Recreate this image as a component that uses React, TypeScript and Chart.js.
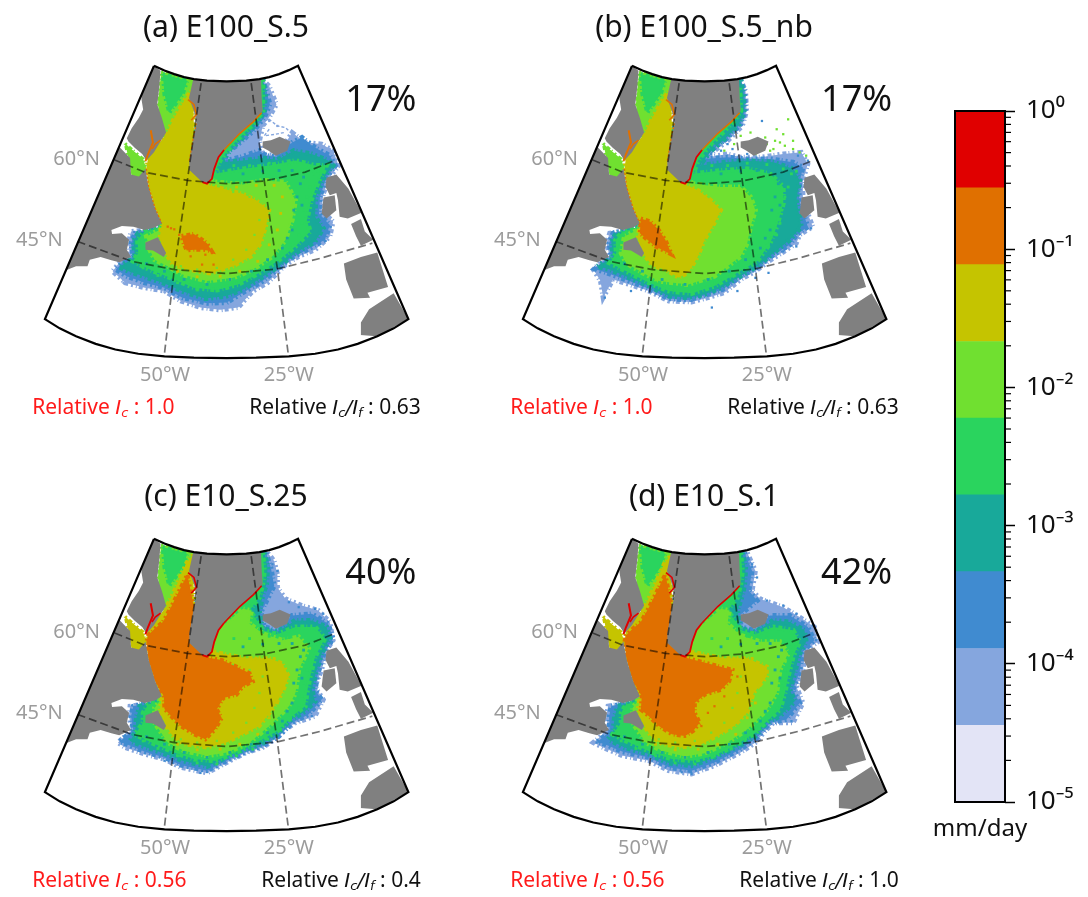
import React, { useEffect, useRef } from "react";
import { Chart, registerables } from "chart.js";

Chart.register(...registerables);

const FONT = '"Noto Sans", sans-serif';
const levelColors = ["#E3E4F6", "#85A6DE", "#408BD0", "#18A99A", "#2AD45E", "#70E030", "#C5C400", "#E07000", "#E00000"];
const colorbarEdges = [1e-5, 3.59e-5, 1.29e-4, 4.64e-4, 1.67e-3, 5.99e-3, 2.15e-2, 7.74e-2, 2.78e-1, 1];
const colorbarDecades = [1e-5, 1e-4, 1e-3, 1e-2, 1e-1];
const colorbarMajorLabels = ["10⁻⁵", "10⁻⁴", "10⁻³", "10⁻²", "10⁻¹", "10⁰"];

// outlines in map units, as x,y,x,y...
const fanOutline = [368,33, 400,47, 430,58, 460,67, 490,73, 530,78, 590,80, 650,78, 690,73, 720,67, 750,58, 780,46, 808,33, 1145,800, 1100,828, 1050,852, 990,875, 930,892, 860,905, 780,913, 680,917, 590,918, 490,917, 400,913, 320,905, 250,892, 190,875, 130,852, 80,828, 35,800];
const parallel60 = [248,318, 340,355, 470,380, 590,390, 705,382, 830,355, 915,322];
const parallel45 = [135,565, 300,625, 430,650, 590,662, 745,648, 880,615, 1035,570];
const meridian50 = [512,85, 470,380, 430,650, 400,905];
const meridian25 = [665,85, 705,382, 745,648, 778,905];

const landBaffin = [368,33, 388,48, 384,100, 378,150, 392,190, 405,235, 388,262, 368,295, 345,320, 332,300, 310,282, 290,262, 285,252, 300,222, 322,190, 335,165, 330,135, 330,120];
const landCanada = [262,278, 295,312, 298,362, 322,368, 342,345, 352,400, 372,465, 392,510, 372,522, 340,530, 305,520, 270,518, 238,530, 240,542, 270,540, 292,560, 285,590, 298,612, 262,628, 238,622, 205,612, 172,620, 165,640, 130,640, 99,652];
const landNewfoundland = [342,568, 380,552, 392,575, 405,600, 398,612, 365,592, 342,590];
const landGreenland = [488,73, 530,78, 590,80, 650,78, 695,73, 697,130, 700,170, 672,200, 632,235, 582,285, 562,318, 548,365, 532,388, 515,385, 478,350, 476,320, 490,240, 498,205, 490,170, 475,130];
const landIceland = [700,262, 725,258, 752,248, 785,262, 775,290, 740,305, 718,290, 700,280];
const landBritain = [895,372, 925,362, 962,405, 1002,478, 960,495, 935,490, 930,440, 925,418, 905,425, 892,400];
const landIreland = [886,432, 920,425, 925,470, 895,495, 880,480];
const landFrance = [970,512, 1000,497, 1012,535, 1038,560, 1000,578, 985,548];
const landSpain = [948,632, 1000,612, 1050,598, 1083,703, 1020,720, 1028,735, 978,738, 955,680];
const landAfrica = [998,848, 1000,810, 1025,770, 1100,722, 1145,800, 1048,852];
const landAll = [landBaffin, landCanada, landNewfoundland, landGreenland, landIceland, landBritain, landIreland, landFrance, landSpain, landAfrica];

const coastSouthEast = [582,288, 630,238, 672,202, 697,175];
const coastFarewell = [582,288, 565,310, 552,345, 545,375, 530,390, 516,385];
const coastInlet = [358,228, 365,265, 350,300, 342,322];
const coastInletFork = [388,258, 372,270, 362,285];
const coastFjord = [472,135, 490,150, 498,180, 482,198];
const coastWest = [476,320, 490,240, 498,205];
const coastLabrador = [345,345, 352,400, 372,465, 392,510];

const baffinLight = [390,50, 430,61, 488,75, 480,130, 470,160, 420,245, 395,250, 380,150];
const baffinGreen = [395,58, 470,78, 455,120, 415,175, 400,120];
const hudsonStrait = [280,268, 305,290, 335,315, 345,345, 325,370, 300,368, 292,320];

const a1 = [700,75, 720,95, 742,150, 722,185, 700,215, 690,262, 700,300, 745,305, 790,235, 830,265, 880,270, 915,290, 932,335, 905,370, 885,420, 880,470, 915,505, 905,550, 860,590, 810,610, 770,635, 745,660, 715,690, 670,715, 625,765, 570,772, 510,765, 450,745, 400,715, 340,705, 280,690, 242,655, 265,625, 295,612, 290,570, 298,535, 380,525, 430,300, 560,150];
const a2 = [700,75, 712,110, 722,150, 705,190, 672,230, 620,275, 590,295, 585,320, 630,310, 690,290, 710,305, 745,308, 790,265, 820,250, 860,280, 905,305, 922,335, 895,370, 875,430, 872,480, 905,515, 890,560, 835,590, 780,620, 745,650, 700,685, 640,720, 590,750, 530,752, 455,735, 400,705, 340,690, 285,670, 252,650, 275,625, 305,612, 298,570, 310,540, 390,520, 430,300, 560,150];
const a3 = [700,75, 708,120, 705,170, 685,205, 640,250, 600,290, 575,325, 640,320, 700,312, 745,318, 795,290, 850,300, 900,320, 915,335, 885,375, 862,430, 860,490, 885,525, 860,565, 800,600, 750,640, 695,675, 640,710, 590,730, 525,738, 460,718, 400,692, 340,672, 290,655, 262,642, 290,625, 310,612, 305,565, 320,540, 390,520, 430,300, 560,150];
const a4 = [700,75, 700,170, 680,200, 640,240, 600,280, 570,320, 552,360, 640,345, 720,335, 800,320, 860,335, 895,335, 870,385, 848,440, 835,500, 845,535, 800,580, 745,625, 690,660, 625,695, 560,712, 490,705, 430,680, 355,650, 305,625, 320,600, 318,560, 340,535, 395,520, 430,300, 560,150];
const a5 = [555,385, 640,392, 700,380, 770,385, 800,440, 790,500, 770,560, 730,610, 670,650, 610,675, 530,685, 455,665, 410,640, 370,620, 355,590, 345,550, 385,530, 400,510, 430,300];
const a6 = [478,350, 530,392, 580,405, 640,420, 680,440, 720,470, 710,520, 695,570, 665,610, 610,640, 540,662, 470,650, 425,635, 405,605, 385,555, 392,512, 372,465, 352,400, 345,345, 350,310, 385,265, 405,240, 430,190, 465,130, 488,100, 490,240];
const a7 = [452,548, 490,542, 530,570, 545,595, 520,590, 490,590, 468,592, 458,570];
const aDotsOrange = [410,520, 420,525, 430,528, 515,635, 550,635, 545,600, 525,605, 445,545, 480,610];
const aDotsBlue = [610,290, 640,275, 660,255, 700,215, 720,200, 745,215, 790,235, 850,270, 905,285, 620,760, 590,765, 545,772, 275,690, 400,718];
const aLace1 = [590,305, 620,280, 650,260, 680,232];
const aLace2 = [600,322, 640,292, 680,268, 695,255];
const aLace3 = [690,205, 720,195, 745,215, 770,220, 790,240];
const aLace4 = [720,225, 705,245, 740,240, 765,235];

const b1 = [700,75, 715,110, 718,170, 705,215, 660,260, 620,290, 600,310, 660,300, 700,310, 760,310, 830,300, 885,295, 905,330, 890,380, 890,440, 905,480, 920,520, 880,545, 870,570, 825,600, 785,625, 745,655, 700,680, 650,720, 600,735, 550,748, 480,745, 420,715, 360,695, 310,680, 280,735, 272,685, 250,650, 280,620, 300,610, 290,570, 300,540, 380,525, 430,300, 560,150];
const b2 = [700,75, 712,110, 714,170, 700,210, 655,255, 615,285, 585,315, 660,310, 720,315, 790,315, 860,325, 890,340, 880,385, 878,440, 895,490, 905,520, 870,545, 850,575, 800,605, 750,645, 700,670, 645,710, 590,728, 540,742, 480,738, 420,708, 360,685, 305,665, 255,648, 285,622, 305,612, 298,570, 310,540, 390,520, 430,300, 560,150];
const b3 = [700,75, 708,120, 710,170, 695,210, 650,255, 610,290, 575,335, 650,325, 720,320, 800,325, 860,345, 880,380, 870,440, 880,490, 885,520, 850,560, 800,600, 750,640, 690,675, 640,705, 590,725, 540,735, 480,730, 420,700, 360,675, 300,650, 262,640, 290,625, 310,612, 305,565, 320,540, 390,520, 430,300, 560,150];
const b4 = [697,100, 700,170, 680,200, 640,240, 600,280, 570,320, 555,360, 640,350, 720,345, 790,360, 830,400, 830,450, 810,520, 790,570, 750,625, 690,660, 620,700, 550,722, 480,715, 420,690, 360,660, 300,630, 320,600, 318,560, 340,535, 395,520, 430,300, 560,150];
const b5 = [555,390, 640,400, 700,400, 730,430, 745,470, 730,520, 720,570, 700,610, 660,640, 620,670, 540,695, 450,685, 400,660, 350,630, 335,600, 345,550, 385,530, 400,510, 430,300];
const b6 = [478,350, 530,392, 570,410, 610,440, 640,470, 620,510, 590,560, 570,610, 540,660, 510,675, 470,650, 430,640, 405,605, 385,555, 392,512, 372,465, 352,400, 345,345, 350,310, 385,265, 405,240, 430,190, 465,130, 488,100, 490,240];
const b7 = [395,495, 425,505, 450,530, 470,560, 490,605, 470,595, 440,580, 415,560, 392,540];
const bDotsGreen = [700,245, 730,235, 780,270, 805,260, 830,240, 845,195, 820,265, 860,260, 880,295, 745,300, 760,285, 790,290, 900,305, 650,290, 680,270, 800,285, 835,275, 860,285, 775,250, 810,225];
const bDotsBlue = [765,200, 610,300, 640,290, 675,285, 785,660, 745,675, 612,765, 550,745, 365,715, 285,735, 830,595, 870,580, 915,525, 690,715, 895,395, 620,275, 660,270, 720,300, 875,305, 905,320];

const c1 = [715,75, 735,100, 745,140, 745,180, 770,215, 820,235, 870,250, 905,285, 915,340, 895,370, 880,430, 860,480, 885,520, 860,570, 800,590, 770,610, 745,635, 700,665, 650,680, 600,705, 530,742, 450,725, 400,700, 340,685, 280,665, 258,650, 285,625, 300,615, 292,570, 295,540, 380,525, 430,300, 560,150];
const c2 = [710,75, 725,120, 735,175, 720,205, 695,255, 705,300, 745,310, 790,265, 850,260, 900,290, 915,335, 890,375, 870,435, 860,490, 880,520, 840,565, 790,590, 750,630, 700,660, 650,678, 600,700, 530,735, 450,718, 400,695, 340,678, 285,655, 262,648, 290,625, 305,612, 298,570, 305,540, 385,522, 430,300, 560,150];
const c3 = [705,75, 715,120, 712,170, 700,205, 690,250, 700,305, 745,315, 800,280, 850,280, 895,300, 905,335, 880,380, 862,440, 850,490, 860,525, 830,555, 780,585, 745,625, 695,655, 640,672, 590,695, 530,722, 455,705, 405,685, 345,665, 295,645, 310,620, 315,570, 325,540, 390,520, 430,300, 560,150];
const c4 = [700,75, 705,130, 700,170, 690,210, 660,250, 690,290, 700,310, 745,322, 800,300, 860,300, 890,335, 860,390, 845,450, 835,500, 830,540, 790,570, 745,615, 690,645, 620,680, 555,705, 490,700, 430,680, 360,650, 310,625, 335,590, 335,560, 350,535, 395,520, 430,300, 560,150];
const c5 = [580,295, 640,245, 665,250, 660,290, 700,320, 760,340, 810,330, 840,365, 810,430, 800,500, 780,540, 720,600, 660,650, 590,680, 530,690, 460,675, 410,650, 390,620, 370,590, 370,545, 385,525, 430,300];
const c6 = [552,375, 650,395, 720,395, 760,410, 780,450, 760,500, 730,550, 690,600, 640,625, 590,650, 530,665, 460,655, 425,630, 405,600, 385,555, 392,512, 372,465, 352,400, 345,345, 350,310, 385,265, 405,240, 430,190, 465,110, 488,80, 490,240];
const c7 = [478,350, 530,392, 575,400, 620,420, 660,440, 670,465, 640,480, 620,505, 580,515, 560,550, 575,575, 555,610, 525,640, 490,625, 450,600, 425,575, 400,548, 398,510, 372,465, 352,400, 345,345, 350,325, 370,305, 395,285, 420,240, 445,190, 470,140, 490,240];
const cDotsBlue = [730,110, 745,130, 780,225, 810,240, 860,245, 885,260, 850,570, 400,705, 510,742, 360,680];

const d1 = [720,75, 745,130, 735,190, 760,215, 830,240, 880,270, 925,300, 935,345, 900,370, 890,430, 870,480, 890,530, 860,590, 800,590, 770,620, 745,650, 700,680, 620,720, 550,745, 480,735, 420,705, 340,690, 280,665, 250,650, 280,625, 295,610, 290,570, 295,540, 380,525, 430,300, 560,150];
const d2 = [712,75, 735,130, 725,190, 750,220, 700,262, 700,300, 745,310, 790,265, 850,265, 905,300, 925,340, 890,375, 880,435, 860,490, 880,530, 840,580, 790,590, 750,635, 700,670, 620,710, 550,735, 480,725, 420,695, 340,678, 285,655, 262,648, 290,625, 300,612, 298,570, 305,540, 385,522, 430,300, 560,150];
const d3 = [705,75, 715,120, 712,170, 705,205, 690,250, 700,305, 745,315, 800,280, 850,285, 895,310, 900,345, 880,380, 865,440, 850,490, 865,525, 820,570, 780,590, 745,630, 695,660, 620,695, 550,720, 480,712, 420,685, 345,665, 295,640, 310,620, 315,570, 325,540, 390,520, 430,300, 560,150];
const d4 = [700,75, 705,130, 700,170, 690,210, 660,250, 690,290, 700,310, 745,322, 800,300, 860,310, 880,345, 860,390, 845,450, 835,500, 820,550, 780,585, 745,620, 690,655, 620,690, 555,705, 490,700, 430,680, 360,650, 310,625, 335,590, 335,560, 350,535, 395,520, 430,300, 560,150];
const d5 = [580,295, 640,245, 665,250, 660,290, 700,325, 760,345, 820,345, 845,380, 820,430, 810,500, 780,550, 720,610, 660,650, 590,682, 530,692, 460,675, 410,650, 390,620, 370,590, 370,545, 385,525, 430,300];
const d6 = [552,375, 650,395, 720,395, 780,420, 780,450, 740,500, 720,560, 680,600, 630,630, 580,655, 520,665, 460,655, 425,630, 405,600, 385,555, 392,512, 372,465, 352,400, 345,345, 350,310, 385,265, 405,240, 430,190, 465,110, 488,80, 490,240];
const d7 = [478,350, 530,392, 580,405, 640,420, 675,430, 665,465, 640,490, 590,505, 560,530, 560,560, 575,590, 555,615, 530,630, 490,625, 450,600, 425,575, 395,550, 398,510, 372,465, 352,400, 345,345, 350,325, 370,305, 395,285, 420,240, 445,190, 470,140, 490,240];
const dDotsBlue = [735,110, 750,150, 780,220, 830,235, 870,260, 920,295, 930,340, 855,585, 520,740, 550,745, 260,650];
const dDotsOlive = [690,450, 650,510, 600,560, 580,600, 620,540];

// scattered grain seen inside the outer bands
const grainGreenInTeal = [855,360, 845,400, 835,430, 825,470, 820,510, 810,545, 785,575, 755,610, 715,640, 670,670, 620,690, 560,715, 500,712, 440,690, 380,668, 335,645, 612,335, 660,335, 720,328, 780,332, 830,345, 870,352];
const grainTealInGreen = [790,350, 815,390, 805,430, 795,470, 790,530, 760,585, 715,620, 665,655, 600,680, 530,695, 460,680, 400,655, 345,632, 640,360, 700,352, 750,350, 825,370, 820,455, 775,555];
const grainOliveInLight = [735,395, 760,430, 755,480, 745,530, 720,575, 685,625, 630,655, 570,670, 500,672, 440,655, 620,400, 680,395];
const grainLightInOlive = [700,450, 690,500, 675,545, 650,590, 610,620, 560,645, 500,650, 450,640, 660,430, 610,415];

const panelTitles = ["(a) E100_S.5", "(b) E100_S.5_nb", "(c) E10_S.25", "(d) E10_S.1"];
const panelPercents = ["17%", "17%", "40%", "42%"];
const panelIc = ["1.0", "1.0", "0.56", "0.56"];
const panelIcIf = ["0.63", "0.63", "0.4", "1.0"];
const panelLayers = [
  [a1, a2, a3, a4, a5, a6, a7],
  [b1, b2, b3, b4, b5, b6, b7],
  [c1, c2, c3, c4, c5, c6, c7],
  [d1, d2, d3, d4, d5, d6, d7],
];
const panelDots = [
  [[aDotsBlue, 1], [aDotsOrange, 7]],
  [[bDotsGreen, 5], [bDotsBlue, 2]],
  [[cDotsBlue, 2]],
  [[dDotsBlue, 2], [dDotsOlive, 7]],
];
const panelLace = [[aLace1, aLace2, aLace3, aLace4], [], [], []];
const latLabels = [["60°N", 132, 316], ["45°N", 18, 562]];
const lonLabels = [["50°W", 402, 969], ["25°W", 780, 969]];

const pts = (flat: number[], close = false) => {
  const out: { x: number; y: number }[] = [];
  for (let i = 0; i < flat.length; i += 2) out.push({ x: flat[i], y: flat[i + 1] });
  if (close) out.push(out[0]);
  return out;
};
const EDGE_DASH = [2, 3, 4, 2, 1, 3];
const poly = (flat: number[], color: string, jag = 0) => ({
  type: "scatter", showLine: true, data: pts(flat, true), backgroundColor: color, fill: "shape",
  borderColor: jag ? color : "transparent", borderWidth: jag, borderDash: jag ? EDGE_DASH : [], pointRadius: 0,
});
const line = (flat: number[], color: string, width: number, dash: number[] = [], close = false) => ({
  type: "scatter", showLine: true, data: pts(flat, close), borderColor: color, borderWidth: width, borderDash: dash,
  fill: false, pointRadius: 0,
});
const dots = (flat: number[], color: string, r = 1.6) => ({
  type: "scatter", showLine: false, data: pts(flat), backgroundColor: color, borderWidth: 0, pointStyle: "rect", pointRadius: r,
});

function panelDatasets(i: number) {
  const red = i >= 2;
  const layers = panelLayers[i];
  const list: any[] = [];
  panelLace[i].forEach((l) => list.push(line(l, levelColors[1], 1.4, [3, 2])));
  list.push(poly(layers[0], levelColors[1], 5));
  list.push(poly(layers[1], levelColors[2], 5));
  list.push(poly(layers[2], levelColors[3], 5));
  list.push(poly(layers[3], levelColors[4], 5));
  list.push(poly(layers[4], levelColors[5], 5));
  list.push(poly(baffinLight, levelColors[5], 2));
  list.push(poly(baffinGreen, levelColors[4], 4));
  list.push(poly(hudsonStrait, levelColors[red ? 6 : 5], 3));
  list.push(dots(grainGreenInTeal, levelColors[4], 2));
  list.push(dots(grainTealInGreen, levelColors[3], 2));
  list.push(poly(layers[5], levelColors[6], 4));
  if (i !== 1) {
    list.push(dots(grainOliveInLight, levelColors[6], 2));
    list.push(dots(grainLightInOlive, levelColors[5], 1.6));
  }
  list.push(poly(layers[6], levelColors[7], 4));
  panelDots[i].forEach(([flat, level]: any) => list.push(dots(flat, levelColors[level])));
  landAll.forEach((l) => list.push(poly(l, "#808080")));
  const edge = red ? levelColors[8] : levelColors[7];
  list.push(line(coastSouthEast, edge, 1.6));
  list.push(line(coastFarewell, levelColors[8], 1.8));
  list.push(line(coastInlet, red ? levelColors[8] : levelColors[7], 2));
  list.push(line(coastInletFork, red ? levelColors[8] : levelColors[7], 1.6));
  list.push(line(coastFjord, red ? levelColors[8] : levelColors[7], 1.6));
  if (!red) {
    list.push(line(coastWest, levelColors[7], 1.2, [2, 2]));
    list.push(line(coastLabrador, levelColors[7], 1.2, [2, 2]));
  }
  const dash = [8, 4];
  [parallel60, parallel45, meridian50, meridian25].forEach((g) => list.push(line(g, "rgba(0,0,0,0.55)", 1.7, dash)));
  list.push(line(fanOutline, "#000000", 2.2, [], true));
  return list.reverse();
}

const runWidth = (ctx: CanvasRenderingContext2D, runs: any[]) =>
  runs.reduce((w, r) => { ctx.font = r.font; return w + ctx.measureText(r.t).width; }, 0);
const drawRuns = (ctx: CanvasRenderingContext2D, x: number, y: number, runs: any[]) => {
  let cx = x;
  runs.forEach((r) => {
    ctx.font = r.font;
    ctx.fillText(r.t, cx, y + (r.dy || 0));
    cx += ctx.measureText(r.t).width;
  });
};

function panelTextPlugin(i: number) {
  return {
    id: "panelText" + i,
    afterDraw(chart: any) {
      const { ctx, scales } = chart;
      const px = (v: number) => scales.x.getPixelForValue(v);
      const py = (v: number) => scales.y.getPixelForValue(v);
      ctx.save();
      ctx.textBaseline = "middle";
      ctx.textAlign = "center";
      ctx.fillStyle = "#111";
      ctx.font = `36px ${FONT}`;
      ctx.fillText(panelPercents[i], px(i % 2 ? 1054 : 1061), py(140));
      ctx.fillStyle = "#9C9C9C";
      ctx.font = `20px ${FONT}`;
      latLabels.forEach(([t, x, y]: any) => ctx.fillText(t, px(x), py(y)));
      lonLabels.forEach(([t, x, y]: any) => ctx.fillText(t, px(x), py(y)));
      ctx.textAlign = "left";
      ctx.textBaseline = "alphabetic";
      const r = `21px ${FONT}`, it = `italic 20px "DejaVu Sans"`, sub = `italic 13px "DejaVu Sans"`;
      ctx.fillStyle = "#FF1A1A";
      drawRuns(ctx, px(-4), py(1087), [{ t: "Relative ", font: r }, { t: "I", font: it }, { t: "c", font: sub, dy: 3 }, { t: " : " + panelIc[i], font: r }]);
      ctx.fillStyle = "#111";
      const runs = [{ t: "Relative ", font: r }, { t: "I", font: it }, { t: "c", font: sub, dy: 3 }, { t: "/I", font: it }, { t: "f", font: sub, dy: 3 }, { t: " : " + panelIcIf[i], font: r }];
      drawRuns(ctx, px(1183) - runWidth(ctx, runs), py(1087), runs);
      ctx.restore();
    },
  };
}

const colorbarPlugin = {
  id: "colorbarExtras",
  afterDraw(chart: any) {
    const { ctx, scales, chartArea } = chart;
    ctx.save();
    ctx.strokeStyle = "#000";
    ctx.lineWidth = 1.2;
    scales.y.ticks.forEach((t: any) => {
      if (t.major) return;
      const y = scales.y.getPixelForValue(t.value);
      ctx.beginPath();
      ctx.moveTo(chartArea.right, y);
      ctx.lineTo(chartArea.right + 6, y);
      ctx.stroke();
    });
    ctx.lineWidth = 2;
    ctx.strokeRect(chartArea.left, chartArea.top, chartArea.right - chartArea.left, chartArea.bottom - chartArea.top);
    ctx.fillStyle = "#111";
    ctx.font = `24px ${FONT}`;
    ctx.textAlign = "center";
    ctx.textBaseline = "middle";
    ctx.fillText(chart.data.labels[0], (chartArea.left + chartArea.right) / 2, chartArea.bottom + 27);
    ctx.restore();
  },
};

function Panel({ index, left, top }: { index: number; left: number; top: number }) {
  const ref = useRef<HTMLCanvasElement>(null);
  useEffect(() => {
    const lower = index >= 2;
    const chart = new Chart(ref.current as any, {
      type: "scatter",
      data: { datasets: panelDatasets(index) as any },
      plugins: [panelTextPlugin(index)],
      options: {
        animation: false, responsive: false, events: [],
        layout: { padding: 0 },
        plugins: {
          legend: { display: false }, tooltip: { enabled: false },
          title: {
            display: true, text: panelTitles[index], color: "#111", align: "center",
            font: { family: FONT, size: 30, weight: "normal", lineHeight: 1.2 },
            padding: { top: lower ? 6 : 10, bottom: lower ? 8 : 4 },
          },
        },
        scales: {
          x: { type: "linear", display: false, min: -90, max: 1266 },
          y: { type: "linear", display: false, min: -15, max: 1251, reverse: true },
        },
      } as any,
    });
    return () => chart.destroy();
  }, [index]);
  return <canvas ref={ref} width={452} height={472} style={{ position: "absolute", left, top, width: 452, height: 472 }} />;
}

function Colorbar() {
  const ref = useRef<HTMLCanvasElement>(null);
  useEffect(() => {
    const datasets = levelColors.map((color, i) => ({
      data: [[colorbarEdges[i], colorbarEdges[i + 1]]], backgroundColor: color, borderWidth: 0,
      barPercentage: 1, categoryPercentage: 1,
    }));
    const chart = new Chart(ref.current as any, {
      type: "bar",
      data: { labels: ["mm/day"], datasets: datasets as any },
      plugins: [colorbarPlugin],
      options: {
        animation: false, responsive: false, events: [],
        layout: { padding: { left: 25, top: 21, right: 0, bottom: 57 } },
        plugins: { legend: { display: false }, tooltip: { enabled: false } },
        scales: {
          x: { stacked: true, display: false },
          y: {
            type: "logarithmic", position: "right", stacked: false, min: 1e-5, max: 1,
            afterFit: (s: any) => { s.width = 83; s.paddingTop = 0; s.paddingBottom = 0; },
            afterBuildTicks: (s: any) => {
              const ticks: any[] = [];
              colorbarDecades.forEach((d) => {
                ticks.push({ value: d, major: true });
                [2, 3, 4, 5, 6, 7, 8, 9].forEach((m) => ticks.push({ value: d * m, major: false }));
              });
              ticks.push({ value: 1, major: true });
              s.ticks = ticks;
            },
            grid: { drawOnChartArea: false, drawTicks: true, tickLength: 10, tickWidth: 1.5, tickColor: (c: any) => (c.tick && c.tick.major ? "#000" : "rgba(0,0,0,0)") },
            border: { display: false },
            ticks: {
              autoSkip: false, maxRotation: 0, padding: 11, color: "#111", font: { family: FONT, size: 26 },
              callback: (v: number) => {
                const k = Math.round(Math.log10(v)) + 5;
                return Math.abs(Math.log10(v) - (k - 5)) < 1e-6 ? colorbarMajorLabels[k] : "";
              },
            },
          },
        },
      } as any,
    });
    return () => chart.destroy();
  }, []);
  return <canvas ref={ref} width={158} height={769} style={{ position: "absolute", left: 930, top: 90, width: 158, height: 769 }} />;
}

export default function App() {
  return (
    <div style={{ position: "absolute", left: 0, top: 0, width: 1088, height: 897, background: "#fff", overflow: "hidden" }}>
      <Panel index={0} left={0} top={0} />
      <Panel index={1} left={478} top={0} />
      <Panel index={2} left={0} top={473} />
      <Panel index={3} left={478} top={473} />
      <Colorbar />
    </div>
  );
}
